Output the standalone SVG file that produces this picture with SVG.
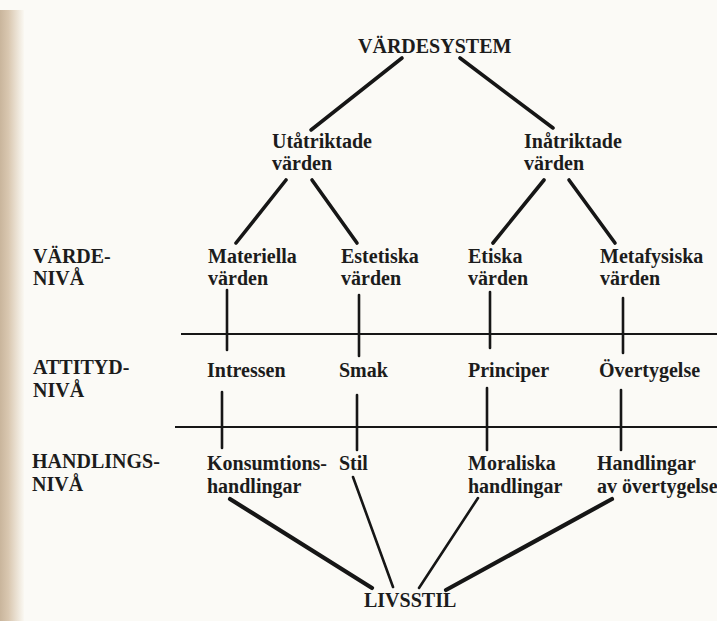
<svg xmlns="http://www.w3.org/2000/svg" width="717" height="621" viewBox="0 0 717 621">
<defs>
<linearGradient id="strip" x1="0" y1="0" x2="1" y2="0">
<stop offset="0" stop-color="#c9b59c"/>
<stop offset="0.35" stop-color="#d9c7b0"/>
<stop offset="1" stop-color="#faf8f2"/>
</linearGradient>
<style>
text{font-family:"Liberation Serif","Times New Roman",serif;font-weight:bold;font-size:20px;fill:#1c1c1c}
.c{stroke:#161616;stroke-linecap:round;fill:none}
.t{stroke-width:3.6}
.v{stroke-width:2.6}
.h{stroke-width:1.8;stroke-linecap:butt}
.b{stroke-width:4.2}
</style>
</defs>
<rect width="717" height="621" fill="#fbfaf6"/>
<rect x="0" y="10" width="24" height="611" fill="url(#strip)"/>
<g id="connectors">
<line class="c t" x1="402" y1="58" x2="311" y2="130"/>
<line class="c t" x1="460" y1="58" x2="553" y2="128"/>
<line class="c t" x1="286" y1="180" x2="236" y2="243"/>
<line class="c t" x1="312" y1="180" x2="357" y2="243"/>
<line class="c t" x1="544" y1="180" x2="493" y2="243"/>
<line class="c t" x1="569" y1="180" x2="615" y2="243"/>
<line class="c v" x1="227" y1="290" x2="227" y2="350"/>
<line class="c v" x1="359" y1="295" x2="359" y2="356"/>
<line class="c v" x1="490" y1="292" x2="490" y2="348"/>
<line class="c v" x1="623" y1="298" x2="623" y2="353"/>
<line class="c h" x1="181" y1="334" x2="717" y2="334"/>
<line class="c h" x1="175" y1="427" x2="717" y2="427"/>
<line class="c v" x1="222" y1="392" x2="222" y2="448"/>
<line class="c v" x1="357" y1="395" x2="357" y2="450"/>
<line class="c v" x1="487" y1="388" x2="487" y2="450"/>
<line class="c v" x1="621" y1="390" x2="621" y2="450"/>
<line class="c b" x1="230" y1="499" x2="372" y2="588"/>
<line class="c v" x1="353" y1="477" x2="393" y2="587"/>
<line class="c v" x1="478" y1="498" x2="419" y2="588"/>
<line class="c b" x1="612" y1="499" x2="446" y2="590"/>
</g>
<g id="level-varde"><text x="33" y="263">VÄRDE-</text><text x="33" y="285">NIVÅ</text></g>
<g id="level-attityd"><text x="33" y="374">ATTITYD-</text><text x="33" y="397">NIVÅ</text></g>
<g id="level-handling"><text x="32" y="468">HANDLINGS-</text><text x="32" y="491">NIVÅ</text></g>
<g id="vardesystem"><text x="358" y="53">VÄRDESYSTEM</text></g>
<g id="utatriktade"><text x="272" y="148">Utåtriktade</text><text x="272" y="170">värden</text></g>
<g id="inatriktade"><text x="524" y="148">Inåtriktade</text><text x="524" y="170">värden</text></g>
<g id="materiella"><text x="208" y="263">Materiella</text><text x="208" y="285">värden</text></g>
<g id="estetiska"><text x="341" y="263">Estetiska</text><text x="341" y="285">värden</text></g>
<g id="etiska"><text x="468" y="263">Etiska</text><text x="468" y="285">värden</text></g>
<g id="metafysiska"><text x="600" y="263">Metafysiska</text><text x="600" y="285">värden</text></g>
<g id="intressen"><text x="207" y="377">Intressen</text></g>
<g id="smak"><text x="339" y="377">Smak</text></g>
<g id="principer"><text x="468" y="377">Principer</text></g>
<g id="overtygelse"><text x="599" y="377">Övertygelse</text></g>
<g id="konsumtion"><text x="207" y="470">Konsumtions-</text><text x="207" y="493">handlingar</text></g>
<g id="stil"><text x="339" y="470">Stil</text></g>
<g id="moraliska"><text x="468" y="470">Moraliska</text><text x="468" y="493">handlingar</text></g>
<g id="handlingar"><text x="597" y="470">Handlingar</text><text x="597" y="493">av övertygelse</text></g>
<g id="livsstil"><text x="364" y="607">LIVSSTIL</text></g>
</svg>
